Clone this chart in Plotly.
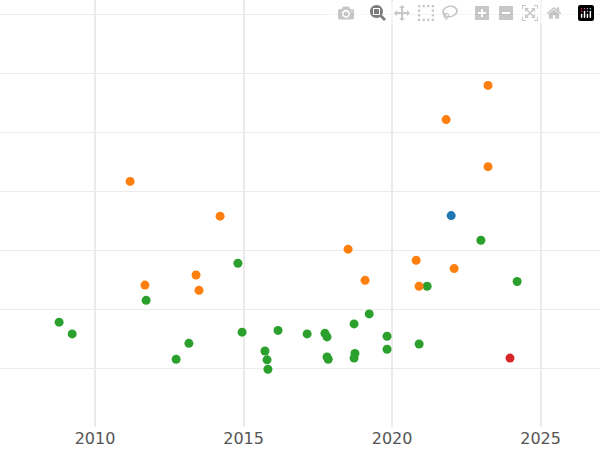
import plotly.graph_objs as go

# (x = year, y = value on an unlabelled scale)
orange_x = [2023.23, 2021.82, 2023.23, 2011.18, 2014.21, 2018.52, 2020.81, 2022.09, 2013.40, 2019.09, 2011.68, 2013.50, 2020.91]
orange_y = [5.80, 5.22, 4.42, 4.17, 3.58, 3.02, 2.83, 2.69, 2.58, 2.49, 2.41, 2.32, 2.39]
blue_x = [2021.99]
blue_y = [3.59]
red_x = [2023.97]
red_y = [1.17]
green_x = [2008.79, 2009.23, 2011.72, 2012.73, 2013.16, 2014.81, 2014.95, 2015.72, 2015.79, 2015.82,
           2016.16, 2017.14, 2017.74, 2017.81, 2017.81, 2017.85, 2018.72, 2018.75, 2018.72, 2019.23,
           2019.83, 2019.83, 2020.91, 2021.18, 2022.99, 2024.21]
green_y = [1.78, 1.58, 2.15, 1.15, 1.42, 2.78, 1.61, 1.29, 1.14, 0.98,
           1.64, 1.58, 1.59, 1.53, 1.19, 1.15, 1.75, 1.25, 1.17, 1.92,
           1.54, 1.32, 1.41, 2.39, 3.17, 2.47]

fig = go.Figure()
for xs, ys, col in [(green_x, green_y, '#2ca02c'), (orange_x, orange_y, '#ff7f0e'),
                    (blue_x, blue_y, '#1f77b4'), (red_x, red_y, '#d62728')]:
    fig.add_trace(go.Scatter(x=xs, y=ys, mode='markers',
                             marker=dict(color=col, size=9), showlegend=False))

fig.update_layout(
    width=600, height=450,
    margin=dict(l=0, r=0, t=0, b=23, pad=0),
    plot_bgcolor='white', paper_bgcolor='white',
    font=dict(family='DejaVu Sans', size=16, color='#555'),
    xaxis=dict(range=[2006.8, 2027.0], tickvals=[2010, 2015, 2020, 2025],
               showgrid=True, gridcolor='#ebebeb', gridwidth=2, zeroline=False, ticks=''),
    yaxis=dict(range=[0, 7.25], dtick=1, showticklabels=False,
               showgrid=True, gridcolor='#ebebeb', gridwidth=1, zeroline=False),
)

# drop the page's default body margin so the figure sits at the window corner
fig.write_html("out.html", post_script="document.body.style.margin='0';")
